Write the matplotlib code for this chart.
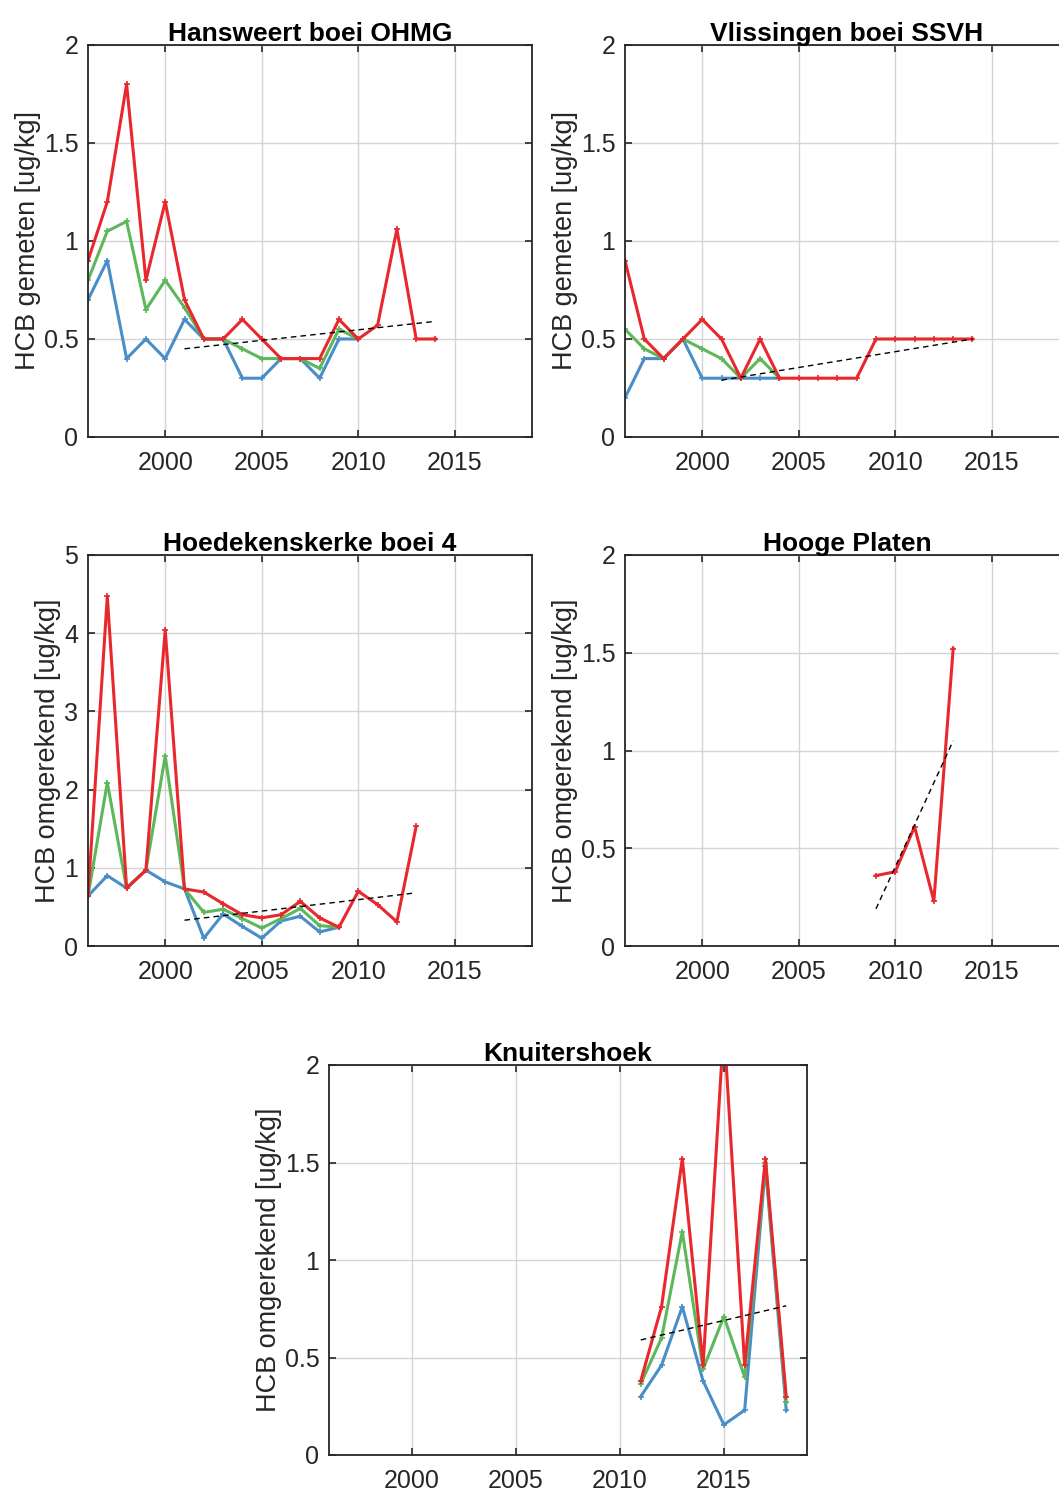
"""
HCB in zwevend stof / sediment per meetlocatie (Westerschelde).

Five panels, three percentile-style series per station plus a dashed trend.
Saves out.png at 1059x1494 px.
"""

import matplotlib
matplotlib.use("Agg")
import matplotlib.pyplot as plt
from matplotlib.ticker import FuncFormatter

plt.rcParams["font.family"] = ["Liberation Sans", "DejaVu Sans"]

# ---------------------------------------------------------------------------
# Data
# ---------------------------------------------------------------------------

# Hansweert boei OHMG
han_years_red = list(range(1996, 2015))
han_red = [0.90, 1.20, 1.80, 0.80, 1.20, 0.70, 0.50, 0.50, 0.60, 0.50,
           0.40, 0.40, 0.40, 0.60, 0.50, 0.57, 1.06, 0.50, 0.50]
han_years_low = list(range(1996, 2011))
han_green = [0.80, 1.05, 1.10, 0.65, 0.80, 0.66, 0.50, 0.50, 0.45, 0.40,
             0.40, 0.40, 0.35, 0.55, 0.50]
han_blue = [0.70, 0.90, 0.40, 0.50, 0.40, 0.60, 0.50, 0.50, 0.30, 0.30,
            0.40, 0.40, 0.30, 0.50, 0.50]
han_trend_x = [2001, 2014]
han_trend_y = [0.45, 0.59]

# Vlissingen boei SSVH
vli_years_red = list(range(1996, 2015))
vli_red = [0.90, 0.50, 0.40, 0.50, 0.60, 0.50, 0.30, 0.50, 0.30, 0.30,
           0.30, 0.30, 0.30, 0.50, 0.50, 0.50, 0.50, 0.50, 0.50]
vli_years_low = list(range(1996, 2005))
vli_green = [0.55, 0.45, 0.40, 0.50, 0.45, 0.40, 0.30, 0.40, 0.30]
vli_blue = [0.20, 0.40, 0.40, 0.50, 0.30, 0.30, 0.30, 0.30, 0.30]
vli_trend_x = [2001, 2014]
vli_trend_y = [0.29, 0.50]

# Hoedekenskerke boei 4
hoe_years_red = list(range(1996, 2014))
hoe_red = [0.64, 4.47, 0.74, 0.97, 4.04, 0.73, 0.69, 0.54, 0.40, 0.36,
           0.40, 0.57, 0.36, 0.24, 0.70, 0.53, 0.31, 1.53]
hoe_years_low = list(range(1996, 2010))
hoe_green = [0.64, 2.09, 0.74, 0.97, 2.43, 0.73, 0.43, 0.47, 0.35, 0.23,
             0.35, 0.48, 0.26, 0.24]
hoe_blue = [0.64, 0.90, 0.74, 0.97, 0.82, 0.73, 0.10, 0.41, 0.25, 0.10,
            0.32, 0.38, 0.18, 0.24]
hoe_trend_x = [2001, 2013]
hoe_trend_y = [0.33, 0.68]

# Hooge Platen
hpl_years = [2009, 2010, 2011, 2012, 2013]
hpl_red = [0.36, 0.38, 0.61, 0.23, 1.52]
hpl_trend_x = [2009, 2013]
hpl_trend_y = [0.19, 1.05]

# Knuitershoek
knu_years = list(range(2011, 2019))
knu_red = [0.38, 0.76, 1.52, 0.46, 2.20, 0.46, 1.52, 0.30]
knu_green = [0.365, 0.60, 1.145, 0.44, 0.71, 0.40, 1.50, 0.27]
knu_blue = [0.30, 0.46, 0.76, 0.38, 0.155, 0.23, 1.48, 0.23]
knu_trend_x = [2011, 2018]
knu_trend_y = [0.59, 0.765]

TITLES = ["Hansweert boei OHMG", "Vlissingen boei SSVH",
          "Hoedekenskerke boei 4", "Hooge Platen", "Knuitershoek"]
YLABEL_MEAS = "HCB gemeten [ug/kg]"
YLABEL_CONV = "HCB omgerekend [ug/kg]"
XTICKS = [2000, 2005, 2010, 2015]

C_BLUE = "#4a8ec8"
C_GREEN = "#5cb85a"
C_RED = "#e8282c"

# ---------------------------------------------------------------------------
# Figure
# ---------------------------------------------------------------------------

W, H = 1059, 1494
fig = plt.figure(figsize=(W / 100, H / 100), dpi=100)


def add_axes_px(x0, y0, x1, y1):
    """Axes from pixel box (top-left origin)."""
    return fig.add_axes([x0 / W, 1 - y1 / H, (x1 - x0) / W, (y1 - y0) / H])


def style(ax, title, ylabel, ymax, ystep):
    ax.set_xlim(1996, 2019)
    ax.set_ylim(0, ymax)
    ax.set_xticks(XTICKS)
    ticks = [i * ystep for i in range(int(round(ymax / ystep)) + 1)]
    ax.set_yticks(ticks)
    ax.yaxis.set_major_formatter(FuncFormatter(lambda v, p: f"{v:g}"))
    ax.grid(True, color="#d4d4d4", linewidth=1.0)
    ax.set_axisbelow(True)
    ax.tick_params(direction="in", top=True, right=True, length=5,
                   width=1.2, colors="#262626", labelsize=18)
    ax.tick_params(axis="x", pad=10)
    ax.tick_params(axis="y", pad=7)
    for sp in ax.spines.values():
        sp.set_color("#262626")
        sp.set_linewidth(1.3)
    ax.set_title(title, fontsize=19, fontweight="bold", pad=3)
    ax.set_ylabel(ylabel, fontsize=19.5, color="#262626", labelpad=2)


def series(ax, x, y, color):
    ax.plot(x, y, color=color, linewidth=2.2, marker="+", markersize=4,
            markeredgewidth=1.2, clip_on=True)


def trend(ax, x, y):
    ax.plot(x, y, color="black", linestyle=(0, (4, 3)), linewidth=1.0)


ax1 = add_axes_px(88, 45, 532, 437)
series(ax1, han_years_low, han_blue, C_BLUE)
series(ax1, han_years_low, han_green, C_GREEN)
series(ax1, han_years_red, han_red, C_RED)
trend(ax1, han_trend_x, han_trend_y)
style(ax1, TITLES[0], YLABEL_MEAS, 2, 0.5)

ax2 = add_axes_px(625, 45, 1069, 437)
series(ax2, vli_years_low, vli_blue, C_BLUE)
series(ax2, vli_years_low, vli_green, C_GREEN)
series(ax2, vli_years_red, vli_red, C_RED)
trend(ax2, vli_trend_x, vli_trend_y)
style(ax2, TITLES[1], YLABEL_MEAS, 2, 0.5)

ax3 = add_axes_px(88, 555, 532, 946)
series(ax3, hoe_years_low, hoe_blue, C_BLUE)
series(ax3, hoe_years_low, hoe_green, C_GREEN)
series(ax3, hoe_years_red, hoe_red, C_RED)
trend(ax3, hoe_trend_x, hoe_trend_y)
style(ax3, TITLES[2], YLABEL_CONV, 5, 1)

ax4 = add_axes_px(625, 555, 1069, 946)
series(ax4, hpl_years, hpl_red, C_RED)
trend(ax4, hpl_trend_x, hpl_trend_y)
style(ax4, TITLES[3], YLABEL_CONV, 2, 0.5)

ax5 = add_axes_px(329, 1065, 807, 1455)
series(ax5, knu_years, knu_blue, C_BLUE)
series(ax5, knu_years, knu_green, C_GREEN)
series(ax5, knu_years, knu_red, C_RED)
trend(ax5, knu_trend_x, knu_trend_y)
style(ax5, TITLES[4], YLABEL_CONV, 2, 0.5)

fig.savefig("out.png", dpi=100)
